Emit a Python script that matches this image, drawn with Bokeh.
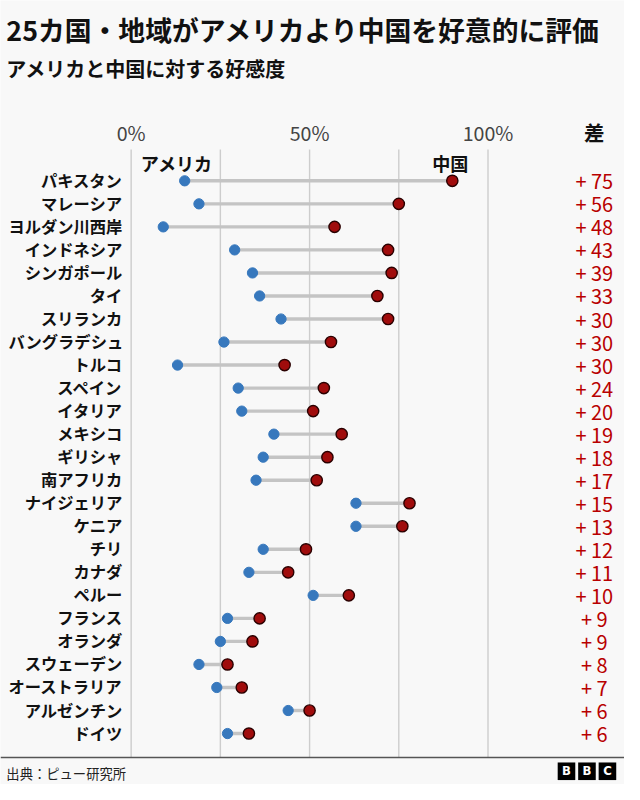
from bokeh.plotting import figure
from bokeh.models import Range1d, Span, ColumnDataSource
from bokeh.core.properties import value
from bokeh.embed import file_html
from bokeh.resources import INLINE

# ---------------- data ----------------
COUNTRIES = ["パキスタン", "マレーシア", "ヨルダン川西岸", "インドネシア", "シンガポール",
             "タイ", "スリランカ", "バングラデシュ", "トルコ", "スペイン", "イタリア",
             "メキシコ", "ギリシャ", "南アフリカ", "ナイジェリア", "ケニア", "チリ",
             "カナダ", "ペルー", "フランス", "オランダ", "スウェーデン", "オーストラリア",
             "アルゼンチン", "ドイツ"]
US = [15, 19, 9, 29, 34, 36, 42, 26, 13, 30, 31, 40, 37, 35, 63, 63, 37, 33, 51, 27, 25, 19, 24, 44, 27]
CHINA = [90, 75, 57, 72, 73, 69, 72, 56, 43, 54, 51, 59, 55, 52, 78, 76, 49, 44, 61, 36, 34, 27, 31, 50, 33]
DIFF = [75, 56, 48, 43, 39, 33, 30, 30, 30, 24, 20, 19, 18, 17, 15, 13, 12, 11, 10, 9, 9, 8, 7, 6, 6]
GRID_TICKS = [0, 25, 50, 75, 100]
LABEL_TICKS = [0, 50, 100]
TITLE = "25カ国・地域がアメリカより中国を好意的に評価"
SUBTITLE = "アメリカと中国に対する好感度"
SOURCE = "出典：ピュー研究所"
SERIES_NAMES = ["アメリカ", "中国"]
DIFF_HEADER = "差"

# ---------------- layout ----------------
W, H = 624, 784
SX, SY = W / 640, H / 800
S = (SX + SY) / 2
X0 = 134 * SX            # 0% position (px inside figure)
PPP = 3.66 * SX          # px per percent
R0 = 184 * SY            # first row centre
RP = 23.5 * SY           # row spacing


def px_x(ref):
    return (ref * SX - X0) / PPP


def px_y(ref):
    return (ref * SY - R0) / RP


def fs(px):
    return f"{px * S:.1f}px"


FONT = value("Noto Sans CJK JP")
BG = "#f8f8f8"
BLUE = "#3778bd"
RED = "#a00c0c"
DIFF_RED = "#b80000"
INK = "#111111"

p = figure(width=W, height=H, output_backend="svg", toolbar_location=None,
           x_range=Range1d(-X0 / PPP, (W - X0) / PPP),
           y_range=Range1d((H - R0) / RP, -R0 / RP),
           x_axis_location=None, y_axis_location=None, min_border=0)
p.grid.visible = False
p.outline_line_color = None
p.background_fill_color = BG
p.border_fill_color = BG

rows = list(range(len(COUNTRIES)))
src = ColumnDataSource(dict(country=COUNTRIES, us=US, china=CHINA,
                            diff=[f"+ {d}" for d in DIFF], row=rows))

# gridlines
gy0, gy1 = px_y(152), px_y(772)
p.segment(x0=GRID_TICKS, y0=[gy0] * len(GRID_TICKS), x1=GRID_TICKS, y1=[gy1] * len(GRID_TICKS),
          line_color="#cdcdcd", line_width=1.4)

# tick labels above
p.text(x=LABEL_TICKS, y=[px_y(135)] * len(LABEL_TICKS), text=[f"{t}%" for t in LABEL_TICKS],
       text_font=FONT, text_font_size=fs(20), text_color="#444444",
       text_align="center", text_baseline="middle")
p.text(x=[100], y=[px_y(134)], text=[DIFF_HEADER], x_offset=109 * SX,
       text_font=FONT, text_font_size=fs(21), text_font_style="bold", text_color=INK,
       text_align="center", text_baseline="middle")

# connectors and dots
p.segment(x0="us", y0="row", x1="china", y1="row", source=src, line_color="#c4c4c4", line_width=3.4)
p.scatter(x="us", y="row", source=src, size=10.5 * S, fill_color=BLUE, line_color=BLUE)
p.scatter(x="china", y="row", source=src, size=11.5 * S, fill_color=RED, line_color="#2a0000",
          line_width=1.4)

# series labels
p.text(x=[US[0]], y=[0], text=[SERIES_NAMES[0]], x_offset=-8 * SX, y_offset=-18 * SY,
       text_font=FONT, text_font_size=fs(18.5), text_font_style="bold", text_color=INK,
       text_align="center", text_baseline="middle")
p.text(x=[CHINA[0]], y=[0], text=[SERIES_NAMES[1]], x_offset=-2 * SX, y_offset=-18 * SY,
       text_font=FONT, text_font_size=fs(18.5), text_font_style="bold", text_color=INK,
       text_align="center", text_baseline="middle")

# country labels
p.text(x=0, y="row", text="country", source=src, x_offset=-9 * SX, y_offset=-1,
       text_font=FONT, text_font_size=fs(16.7), text_font_style="bold", text_color=INK,
       text_align="right", text_baseline="middle")

# difference labels
p.text(x=100, y="row", text="diff", source=src, x_offset=109 * SX,
       text_font=FONT, text_font_size=fs(20.5), text_color=DIFF_RED,
       text_align="center", text_baseline="middle")

# title & subtitle
xl = px_x(6)
p.text(x=[xl], y=[px_y(30)], text=[TITLE], text_font=FONT, text_font_size=fs(27.4),
       text_font_style="bold", text_color=INK, text_align="left", text_baseline="middle")
p.text(x=[xl], y=[px_y(69)], text=[SUBTITLE], text_font=FONT, text_font_size=fs(20.5),
       text_font_style="bold", text_color=INK, text_align="left", text_baseline="middle")

# footer
p.add_layout(Span(location=px_y(772.5), dimension="width", line_color="#555555", line_width=1.5))
p.text(x=[xl], y=[px_y(789)], text=[SOURCE], text_font=FONT, text_font_size=fs(13.6),
       text_color="#222222", text_align="left", text_baseline="middle")
logo_x = [px_x(580.5), px_x(601.5), px_x(622.5)]
logo_y = [px_y(786.5)] * 3
p.rect(x=logo_x, y=logo_y, width=18 * S, height=18 * S, width_units="screen", height_units="screen",
       fill_color="#000000", line_color=None)
p.text(x=logo_x, y=logo_y, text=["B", "B", "C"], text_font=value("DejaVu Sans"),
       text_font_size=fs(12), text_font_style="bold", text_color="#ffffff",
       text_align="center", text_baseline="middle")

open("out.html", "w").write(file_html(p, INLINE))
